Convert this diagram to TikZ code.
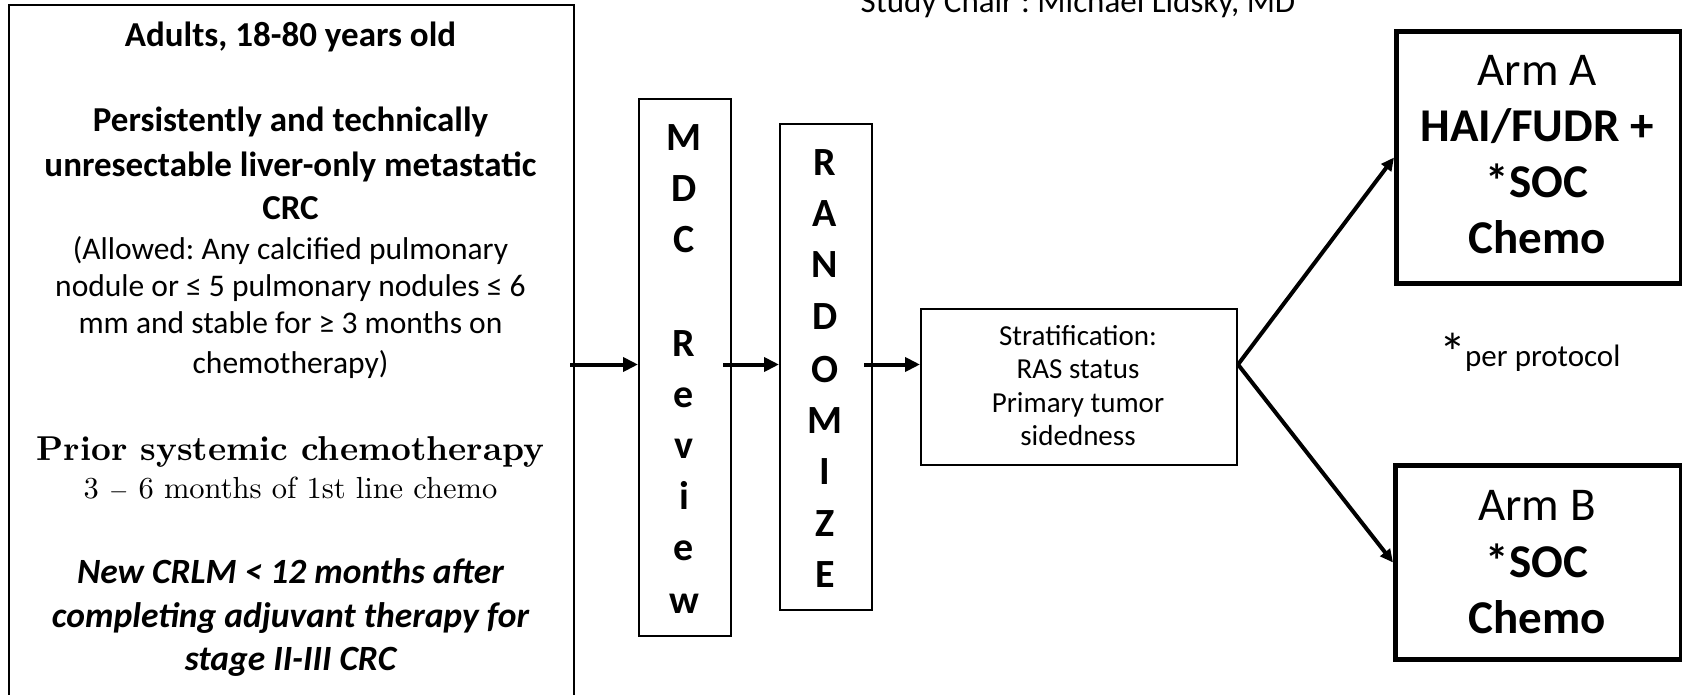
\documentclass[tikz,border=0pt]{standalone}
\usepackage{fontspec}
\setmainfont{Carlito}
\newfontfamily\cmbfont{lmroman10-regular.otf}
\newfontfamily\cmbboldfont{lmroman10-bold.otf}
\usetikzlibrary{arrows.meta}
\newcommand\setfs[1]{\fontsize{#1}{#1}\selectfont}
\frenchspacing
\begin{document}
\begin{tikzpicture}[x=1pt,y=-1pt,
  thinbox/.style={draw, line width=2pt, rectangle, inner sep=0pt, anchor=north west},
  armbox/.style={draw, line width=5pt, rectangle, inner sep=0pt, anchor=north west},
  flow/.style={line width=4pt, -{Triangle[length=15pt,width=14pt]}},
  branch/.style={line width=4pt, -{Triangle[length=13pt,width=12pt]}},
  txt/.style={anchor=base, inner sep=0pt},
  hbold/.style={txt, font=\setfs{35}\bfseries},
  hreg/.style={txt, font=\setfs{31.5}},
  hital/.style={txt, font=\setfs{35.5}\bfseries\itshape},
  letter/.style={txt, font=\setfs{40}\bfseries},
  strat/.style={txt, font=\setfs{29}},
  armtxt/.style={txt, font=\setfs{47}},
]
\useasboundingbox (0,0) rectangle (1682,695);
\clip (0,0) rectangle (1682,695);

% boxes
\node[thinbox, minimum width=565pt, minimum height=730pt] (elig) at (8,4) {};
\node[thinbox, minimum width=92pt, minimum height=537pt] (mdc) at (638,98) {};
\node[thinbox, minimum width=92pt, minimum height=486pt] (rand) at (779,123) {};
\node[thinbox, minimum width=316pt, minimum height=156pt] (stratbox) at (920,308) {};
\node[armbox, minimum width=285pt, minimum height=252pt] (armA) at (1394,29) {};
\node[armbox, minimum width=286pt, minimum height=194pt] (armB) at (1393,463) {};

% title
\node[txt, font=\setfs{33}] (title) at (1078,13) {Study Chair : Michael Lidsky, MD};

% eligibility text
\node[hbold] (e1) at (290.5,47) {Adults, 18-80 years old};
\node[hbold] (e2) at (290.5,132) {Persistently and technically};
\node[hbold] (e3) at (290.5,177) {unresectable liver-only metastatic};
\node[hbold] (e4) at (290.5,220) {CRC};
\node[hreg] (e5) at (290.5,260) {(Allowed: Any calcified pulmonary};
\node[hreg] (e6) at (290.5,297) {nodule or ≤ 5 pulmonary nodules ≤ 6};
\node[hreg] (e7) at (290.5,333) {mm and stable for ≥ 3 months on};
\node[hreg] (e8) at (290.5,373) {chemotherapy)};
\node[txt, font=\cmbboldfont\setfs{34.5}] (e9) at (290.5,460) {Prior systemic chemotherapy};
\node[txt, font=\cmbfont\setfs{30.5}] (e10) at (290.5,498) {3 $-$ 6 months of 1st line chemo};
\node[hital] (e11) at (290.5,583) {New CRLM < 12 months after};
\node[hital] (e12) at (290.5,627) {completing adjuvant therapy for};
\node[hital] (e13) at (290.5,670) {stage II-III CRC};

% vertical letters
\foreach \l/\y in {M/151, D/202, C/253, R/356, e/407, v/458, i/509, e/560, w/613}
  \node[letter] (m\y) at (684,\y) {\l};
\foreach \l/\y in {R/176, A/227, N/278, D/329, O/382, M/433, I/484, Z/536, E/587}
  \node[letter] (r\y) at (825,\y) {\l};

% stratification
\node[strat] (s1) at (1078,345) {Stratification:};
\node[strat] (s2) at (1078,378) {RAS status};
\node[strat] (s3) at (1078,412) {Primary tumor};
\node[strat] (s4) at (1078,445) {sidedness};

% arms
\node[armtxt] (a1) at (1537,86) {Arm A};
\node[armtxt, font=\setfs{47}\bfseries] (a2) at (1537,142) {HAI/FUDR +};
\node[armtxt, font=\setfs{47}\bfseries] (a3) at (1537,198) {*SOC};
\node[armtxt, font=\setfs{47}\bfseries] (a4) at (1537,254) {Chemo};
\node[armtxt] (b1) at (1537,520) {Arm B};
\node[armtxt, font=\setfs{47}\bfseries] (b2) at (1537,577) {*SOC};
\node[armtxt, font=\setfs{47}\bfseries] (b3) at (1537,633) {Chemo};

% footnote
\node[txt, anchor=base west, font=\setfs{54}] (star) at (1439,371) {*};
\node[txt, anchor=base west, font=\setfs{31}] (pp) at (1465,366) {per protocol};

% connectors
\coordinate (lvl) at (0,364.5);
\draw[flow] ([xshift=-5pt]elig.east |- lvl) -- (mdc.west |- lvl);
\draw[flow] ([xshift=-9pt]mdc.east |- lvl) -- (rand.west |- lvl);
\draw[flow] ([xshift=-9pt]rand.east |- lvl) -- (stratbox.west |- lvl);
\coordinate (apex) at (stratbox.east |- lvl);
\draw[branch] (apex) -- (armA.west);
\draw[branch] (apex) -- (armB.west);
\end{tikzpicture}
\end{document}
